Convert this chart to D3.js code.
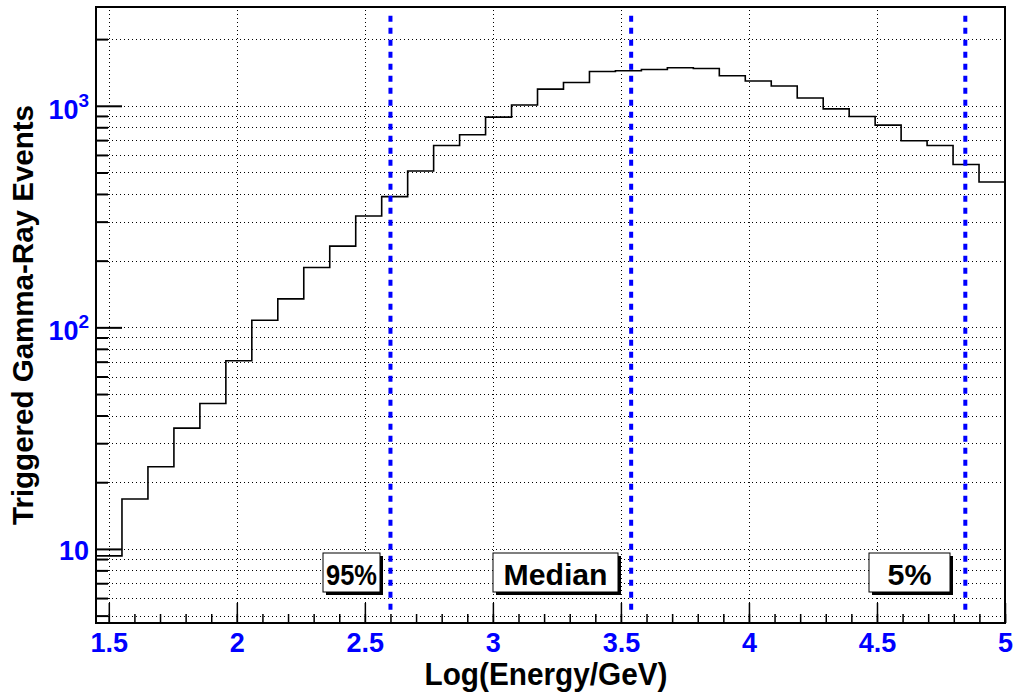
<!DOCTYPE html>
<html><head><meta charset="utf-8">
<script src="https://cdn.jsdelivr.net/npm/d3@7"></script>
<style>
body{margin:0;background:#fff}
svg{display:block}
text{font-family:"Liberation Sans",Arial,Helvetica,sans-serif;font-weight:bold}
</style>
</head><body>
<svg id="c" width="1016" height="693"></svg>
<script>
// ---------------- data ----------------
const xRange = [1.45, 5.0];          // histogram range (35 bins)
const counts = [9.3, 16.8, 23.5, 35.1, 45.3, 70.7, 107.6, 134.4, 186.3, 232.6,
                318, 389, 508, 662, 740, 889, 1009, 1189, 1273, 1429,
                1440, 1459, 1484, 1474, 1367, 1294, 1228, 1084, 969, 895,
                818, 695, 662, 543, 453];
const yRange = [4.63, 2792];
const xMajorTicks = [1.5, 2, 2.5, 3, 3.5, 4, 4.5, 5];
const xTickLabels = ["1.5", "2", "2.5", "3", "3.5", "4", "4.5", "5"];
const yGridTicks = [5, 6, 7, 8, 9, 10, 20, 30, 40, 50, 60, 70, 80, 90,
                    100, 200, 300, 400, 500, 600, 700, 800, 900, 1000, 2000];
const yMajorTicks = [10, 100, 1000];
const yTickBase = ["10", "10", "10"];
const yTickExp = ["", "2", "3"];
const markerNames = ["95%", "Median", "5%"];
const markerValues = [2.6, 3.54, 4.845];
const markerSpan = [5, 2550];
const xTitle = "Log(Energy/GeV)";
const yTitle = "Triggered Gamma-Ray Events";

// ---------------- layout ----------------
const L = 96, R = 1005, T = 7, B = 623;
const BLUE = "#0000ff";
const svg = d3.select("#c");
const x = d3.scaleLinear().domain(xRange).range([L, R]);
const y = d3.scaleLog().domain(yRange).range([B, T]);
const xMinorTicks = d3.range(15, 51).map(i => i / 10);

function styleLines(g, dash, w) {
  g.select(".domain").remove();
  g.selectAll("line").attr("stroke", "#000").attr("stroke-width", w)
    .attr("stroke-dasharray", dash);
}

// grid
svg.append("g").attr("transform", `translate(0,${B})`).attr("shape-rendering", "crispEdges")
  .call(d3.axisBottom(x).tickValues(xMajorTicks).tickSize(-(B - T)).tickFormat(""))
  .call(g => styleLines(g, "1,3", 1));
svg.append("g").attr("transform", `translate(${L},0)`).attr("shape-rendering", "crispEdges")
  .call(d3.axisLeft(y).tickValues(yGridTicks).tickSize(-(R - L)).tickFormat(""))
  .call(g => styleLines(g, "1,3", 1));

// histogram
const nb = counts.length;
const bw = (xRange[1] - xRange[0]) / nb;
let p = `M${x(xRange[0])},${y(counts[0])}`;
counts.forEach((c, i) => {
  if (i > 0) p += `V${y(c)}`;
  p += `H${x(xRange[0] + (i + 1) * bw)}`;
});
svg.append("path").attr("d", p).attr("fill", "none")
  .attr("stroke", "#000").attr("stroke-width", 1.6);

// marker lines
svg.append("g").selectAll("line").data(markerValues).join("line")
  .attr("x1", d => x(d)).attr("x2", d => x(d))
  .attr("y1", y(markerSpan[1])).attr("y2", y(markerSpan[0]))
  .attr("stroke", BLUE).attr("stroke-width", 4).attr("stroke-dasharray", "6,6");

// label boxes (positions are layout)
const boxes = [{x0: 323, x1: 380, tl: 51}, {x0: 493, x1: 618, tl: 104}, {x0: 869, x1: 950, tl: 44}];
const by0 = 553, by1 = 592;
const bg = svg.append("g").selectAll("g").data(markerNames).join("g");
bg.append("rect").attr("x", (d, i) => boxes[i].x0 + 3).attr("y", by0 + 3)
  .attr("width", (d, i) => boxes[i].x1 - boxes[i].x0).attr("height", by1 - by0)
  .attr("fill", "#000");
bg.append("rect").attr("x", (d, i) => boxes[i].x0).attr("y", by0)
  .attr("width", (d, i) => boxes[i].x1 - boxes[i].x0).attr("height", by1 - by0)
  .attr("fill", "#fff").attr("stroke", "#000").attr("stroke-width", 1);
bg.append("text").attr("x", (d, i) => (boxes[i].x0 + boxes[i].x1) / 2).attr("y", 585)
  .attr("text-anchor", "middle").attr("font-size", 29).attr("fill", "#000")
  .attr("textLength", (d, i) => boxes[i].tl).attr("lengthAdjust", "spacingAndGlyphs")
  .text(d => d);

// ticks
svg.append("g").attr("transform", `translate(0,${B})`)
  .call(d3.axisBottom(x).tickValues(xMinorTicks).tickSize(-9).tickFormat(""))
  .call(g => styleLines(g, null, 1.5));
svg.append("g").attr("transform", `translate(0,${B})`)
  .call(d3.axisBottom(x).tickValues(xMajorTicks).tickSize(-20)
    .tickFormat((d, i) => xTickLabels[i]))
  .call(g => {
    styleLines(g, null, 1.5);
    g.selectAll("text").attr("y", 29).attr("dy", null)
      .attr("font-size", 27).attr("fill", BLUE)
      .attr("font-family", '"Liberation Sans",Arial,sans-serif').attr("font-weight", "bold");
  });
svg.append("g").attr("transform", `translate(${L},0)`)
  .call(d3.axisLeft(y).tickValues(yGridTicks.filter(v => !yMajorTicks.includes(v)))
    .tickSize(-12).tickFormat(""))
  .call(g => styleLines(g, null, 2));
svg.append("g").attr("transform", `translate(${L},0)`)
  .call(d3.axisLeft(y).tickValues(yMajorTicks).tickSize(-26).tickFormat(""))
  .call(g => styleLines(g, null, 2));

// y tick labels
const yl = svg.append("g").selectAll("text").data(yMajorTicks).join("text")
  .attr("x", 89).attr("y", (d, i) => y(d) + (yTickExp[i] ? 13 : 11))
  .attr("text-anchor", "end").attr("font-size", 27).attr("fill", BLUE);
yl.append("tspan").text((d, i) => yTickBase[i]);
yl.filter((d, i) => yTickExp[i] !== "").append("tspan")
  .attr("font-size", 19).attr("dy", -12).text((d) => yTickExp[yMajorTicks.indexOf(d)]);

// frame
svg.append("rect").attr("x", L).attr("y", T).attr("width", R - L).attr("height", B - T)
  .attr("fill", "none").attr("stroke", "#000").attr("stroke-width", 2);

// titles
svg.append("text").attr("x", 546).attr("y", 685).attr("text-anchor", "middle")
  .attr("font-size", 31).attr("textLength", 243).attr("lengthAdjust", "spacingAndGlyphs")
  .attr("fill", "#000").text(xTitle);
svg.append("text").attr("transform", "translate(33,315) rotate(-90)")
  .attr("text-anchor", "middle").attr("font-size", 29)
  .attr("textLength", 420).attr("lengthAdjust", "spacingAndGlyphs")
  .attr("fill", "#000").text(yTitle);
</script>
</body></html>
